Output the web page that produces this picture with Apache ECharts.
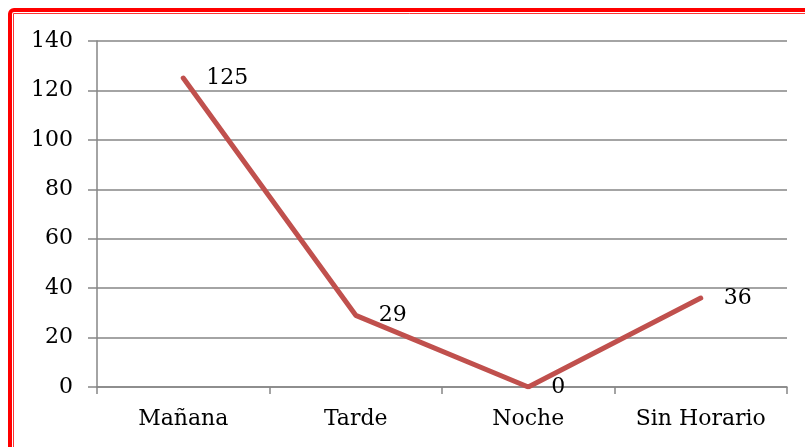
<!DOCTYPE html>
<html>
<head>
<meta charset="utf-8">
<script src="https://cdn.jsdelivr.net/npm/echarts@6/dist/echarts.min.js"></script>
<style>
  html, body { margin: 0; padding: 0; background: #fff; }
  #chart { width: 805px; height: 447px; }
</style>
</head>
<body>
<div id="chart"></div>
<script>
// datos del gráfico
const categories = ['Mañana', 'Tarde', 'Noche', 'Sin Horario']
const values = [125, 29, 0, 36]
const yTicks = { min: 0, max: 140, interval: 20 }

const font = 'DejaVu Serif'
const gris = '#868686'

const myChart = echarts.init(document.getElementById('chart'))

const option = {
  backgroundColor: '#fff',
  animation: false,
  // marco rojo doble
  graphic: [
    {
      type: 'rect',
      shape: { x: 10, y: 10, width: 900, height: 900, r: 4 },
      style: { fill: 'none', stroke: '#ff0000', lineWidth: 4 }
    },
    {
      type: 'rect',
      shape: { x: 13.5, y: 13.5, width: 900, height: 900 },
      style: { fill: 'none', stroke: '#ff3333', lineWidth: 1 }
    }
  ],
  grid: { left: 97, right: 18, top: 41, bottom: 60 },
  xAxis: {
    type: 'category',
    data: categories,
    boundaryGap: true,
    axisLine: { lineStyle: { color: gris, width: 1.5 } },
    axisTick: { show: true, length: 7, lineStyle: { color: gris, width: 1.5 } },
    axisLabel: { color: '#000', fontFamily: font, fontSize: 22, margin: 21, interval: 0 }
  },
  yAxis: {
    type: 'value',
    min: yTicks.min,
    max: yTicks.max,
    interval: yTicks.interval,
    axisLine: { show: true, lineStyle: { color: gris, width: 1.5 } },
    axisTick: { show: true, length: 9, lineStyle: { color: gris, width: 1.5 } },
    splitLine: { lineStyle: { color: gris, width: 1.5 } },
    axisLabel: { color: '#000', fontFamily: font, fontSize: 22, margin: 24 }
  },
  series: [
    {
      type: 'line',
      data: values,
      symbol: 'circle',
      symbolSize: 2,
      showSymbol: true,
      itemStyle: { color: '#c0504d' },
      lineStyle: { color: '#c0504d', width: 5, cap: 'round' },
      label: {
        show: true,
        position: 'right',
        distance: 22,
        color: '#000',
        fontFamily: font,
        fontSize: 22
      }
    }
  ]
}

myChart.setOption(option)
</script>
</body>
</html>
